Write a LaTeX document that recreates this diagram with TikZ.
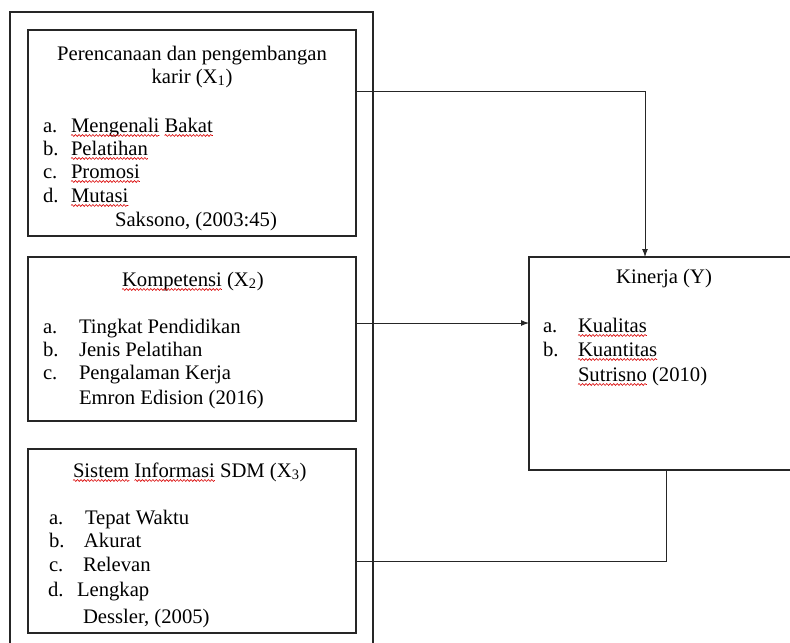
\documentclass[tikz,border=0pt]{standalone}
\usepackage{fontspec}
\setmainfont{Liberation Serif}
\usetikzlibrary{arrows.meta,fit,decorations.pathmorphing,calc}
\begin{document}
\begin{tikzpicture}[x=0.75pt,y=-0.75pt,
  font=\fontsize{15.5pt}{17.6pt}\selectfont,
  box/.style={draw=black!85, line width=0.9pt, inner sep=0pt, outer sep=0pt},
  txt/.style={inner sep=0pt, outer sep=0pt, anchor=base west, text=black},
  ctr/.style={inner sep=0pt, outer sep=0pt, anchor=base, text=black},
  conn/.style={draw=black!85, line width=0.75pt},
  arr/.style={conn, -{Latex[length=6pt,width=4.5pt]}},
  wavy/.style={draw=red!85!black, line width=0.45pt, decorate,
    decoration={snake, amplitude=0.7pt, segment length=2.6pt}}]
\useasboundingbox (0,0) rectangle (790,643);
\clip (0,0) rectangle (790,643);

% boxes
\node[box, fit={(10,12) (373,660)}] (outer) {};
\node[box, fit={(28,30) (356,236)}] (b1) {};
\node[box, fit={(28,257) (356,421)}] (b2) {};
\node[box, fit={(28,449) (356,633)}] (b3) {};
\node[box, fit={(529,257) (800,470)}] (kin) {};

% box 1 text
\node[ctr] (t1a) at (192,60) {Perencanaan dan pengembangan};
\node[ctr] (t1b) at (192,83) {karir (X\textsubscript{1})};
\node[txt] (l1a) at (43,132) {a.};
\node[txt] (i1a) at (71,132) {Mengenali};
\node[txt] (i1a2) at ([xshift=3.9pt]i1a.base east) {Bakat};
\node[txt] (l1b) at (43,155) {b.};
\node[txt] (i1b) at (71,155) {Pelatihan};
\node[txt] (l1c) at (43,178) {c.};
\node[txt] (i1c) at (71,178) {Promosi};
\node[txt] (l1d) at (43,202) {d.};
\node[txt] (i1d) at (71,202) {Mutasi};
\node[ctr] (s1) at (196,226) {Saksono, (2003:45)};

% box 2 text
\node[txt] (t2) at (122,286) {Kompetensi};
\node[txt] (t2b) at ([xshift=3.9pt]t2.base east) {(X\textsubscript{2})};
\node[txt] (l2a) at (43,333) {a.};
\node[txt] (i2a) at (79,333) {Tingkat Pendidikan};
\node[txt] (l2b) at (43,356) {b.};
\node[txt] (i2b) at (79,356) {Jenis Pelatihan};
\node[txt] (l2c) at (43,379) {c.};
\node[txt] (i2c) at (79,379) {Pengalaman Kerja};
\node[txt] (s2) at (79,404) {Emron Edision (2016)};

% box 3 text
\node[txt] (t3) at (73,477) {Sistem};
\node[txt] (t3b) at ([xshift=3.9pt]t3.base east) {Informasi};
\node[txt] (t3c) at ([xshift=3.9pt]t3b.base east) {SDM (X\textsubscript{3})};
\node[txt] (l3a) at (49,524) {a.};
\node[txt] (i3a) at (85,524) {Tepat Waktu};
\node[txt] (l3b) at (49,547) {b.};
\node[txt] (i3b) at (84,547) {Akurat};
\node[txt] (l3c) at (49,571) {c.};
\node[txt] (i3c) at (83,571) {Relevan};
\node[txt] (l3d) at (48,596) {d.};
\node[txt] (i3d) at (77,596) {Lengkap};
\node[txt] (s3) at (83,623) {Dessler, (2005)};

% Kinerja text
\node[ctr] (tk) at (664,283) {Kinerja (Y)};
\node[txt] (lka) at (543,332) {a.};
\node[txt] (ika) at (578,332) {Kualitas};
\node[txt] (lkb) at (543,356) {b.};
\node[txt] (ikb) at (578,356) {Kuantitas};
\node[txt] (sk) at (578,381) {Sutrisno};
\node[txt] (sk2) at ([xshift=3.9pt]sk.base east) {(2010)};

% spelling underlines
\foreach \w in {i1a,i1a2,i1b,i1c,i1d,t2,t3,t3b,ika,ikb,sk}
  \draw[wavy] ([yshift=-2.6pt]\w.base west) -- ([yshift=-2.6pt]\w.base east);

% connectors
\coordinate (k1) at (645,91);
\draw[arr] (b1.east |- k1) -- (k1) -- (k1 |- kin.north);
\coordinate (k2) at (450,323);
\draw[arr] (b2.east |- k2) -- (kin.west |- k2);
\coordinate (k3) at (666,561);
\draw[conn] (b3.east |- k3) -- (k3) -- (k3 |- kin.south);
\end{tikzpicture}
\end{document}
